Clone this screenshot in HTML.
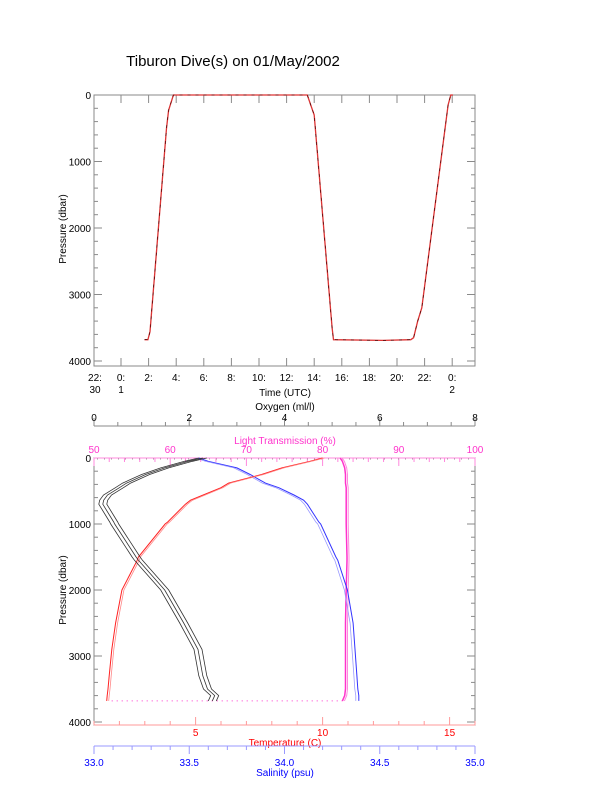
<!DOCTYPE html>
<html><head><meta charset="utf-8"><style>
body{margin:0;background:#fff}
svg{display:block;font-family:"Liberation Sans",sans-serif}
</style></head><body>
<svg id="c" width="612" height="785" viewBox="0 0 612 785" xmlns="http://www.w3.org/2000/svg">
<text x="233" y="66" font-size="15" text-anchor="middle">Tiburon Dive(s) on 01/May/2002</text>
</svg>
<script>
// ---- top plot data: time (hours since 0:00 01/May) vs pressure ----
const diveTimes = [1.7, 1.95, 2.1, 3.3, 3.45, 3.8, 13.5, 14.0, 15.3, 15.4, 19.0, 21.0, 21.2, 21.5, 21.8, 23.7, 23.9, 24.05];
const divePress = [3680, 3680, 3560, 500, 230, 0, 0, 300, 3500, 3680, 3690, 3680, 3650, 3400, 3200, 150, 0, 0];
const timeTickHours = [-1.5, 0, 2, 4, 6, 8, 10, 12, 14, 16, 18, 20, 22, 24];
const timeTickLabels = [["22:","30"],["0:","1"],["2:",""],["4:",""],["6:",""],["8:",""],["10:",""],["12:",""],["14:",""],["16:",""],["18:",""],["20:",""],["22:",""],["0:","2"]];
const pressTicks = [0, 1000, 2000, 3000, 4000];
// ---- bottom plot data: profiles ----
const profPress = [0, 50, 150, 250, 380, 450, 560, 640, 700, 970, 1000, 1500, 1550, 2000, 2500, 2900, 3300, 3500, 3600, 3680];
const tempValues = [10.0, 9.5, 8.4, 7.6, 6.3, 6.0, 5.3, 4.8, 4.6, 3.9, 3.8, 2.75, 2.7, 2.1, 1.85, 1.7, 1.6, 1.55, 1.52, 1.5];
const oxyValues = [2.2, 1.9, 1.4, 1.0, 0.6, 0.45, 0.2, 0.12, 0.1, 0.33, 0.35, 0.8, 0.85, 1.4, 1.8, 2.1, 2.2, 2.3, 2.45, 2.4];
const salValues = [33.55, 33.6, 33.75, 33.82, 33.9, 33.97, 34.05, 34.1, 34.12, 34.18, 34.19, 34.27, 34.28, 34.33, 34.36, 34.37, 34.38, 34.385, 34.39, 34.39];
const lightValues = [82.3, 82.6, 82.9, 83.0, 83.0, 83.1, 83.1, 83.1, 83.1, 83.1, 83.1, 83.2, 83.2, 83.1, 83.0, 83.0, 83.0, 83.0, 82.9, 82.6];
const oxyTicks = [0, 2, 4, 6, 8];
const lightTicks = [50, 60, 70, 80, 90, 100];
const tempTicks = [5, 10, 15];
const salTicks = [33.0, 33.5, 34.0, 34.5, 35.0];
const salTickLabels = ["33.0", "33.5", "34.0", "34.5", "35.0"];

const svg = document.getElementById('c');
const NS = 'http://www.w3.org/2000/svg';
function mk(tag, attrs, parent) {
  const e = document.createElementNS(NS, tag);
  for (const k in attrs) e.setAttribute(k, attrs[k]);
  (parent || svg).appendChild(e);
  return e;
}
const L = 94, R = 475;
const xTime = t => 121 + (t) * 13.8;
const yTop = p => 95 + p * 0.0665;
const yBot = p => 458 + p * 0.066;
const xOxy = v => L + v / 8 * (R - L);
const xLight = v => L + (v - 50) / 50 * (R - L);
const xTemp = v => L + (v - 1) / 15 * (R - L);
const xSal = v => L + (v - 33) / 2 * (R - L);

function txt(x, y, s, size, color, anchor, name) {
  const t = mk('text', {x: x, y: y, 'font-size': size, fill: color, 'text-anchor': anchor || 'middle'});
  t.textContent = s;
  
  
  return t;
}
function line(x1, y1, x2, y2, c, name) {
  const l = mk('line', {x1: x1, y1: y1, x2: x2, y2: y2, stroke: c, 'stroke-width': 1});
  
  
  return l;
}
const G = '#8a8a8a';

// ===== TOP PLOT =====
const f1 = mk('rect', {x: L, y: 95, width: R - L, height: 271, fill: 'none', stroke: G});


pressTicks.forEach(p => {
  line(L, yTop(p), L + 8, yTop(p), G, 'top-y-tick');
  line(R, yTop(p), R - 8, yTop(p), G, 'top-y-tick-right');
  txt(L - 3, yTop(p) + 4, String(p), 10, '#000', 'end', 'top-y-tick-label');
});
for (let p = 200; p < 4000; p += 200) {
  if (p % 1000) { line(L, yTop(p), L + 4, yTop(p), G, 'top-y-minor-tick'); line(R, yTop(p), R - 4, yTop(p), G, 'top-y-minor-tick-right'); }
}
timeTickHours.forEach((h, i) => {
  const x = h < 0 ? L + 1 : xTime(h);
  if (h >= 0) { line(x, 366, x, 358, G, 'time-tick'); line(x, 95, x, 103, G, 'time-tick-top'); }
  txt(x, 381, timeTickLabels[i][0], 10, '#000', 'middle', 'time-tick-label');
  if (timeTickLabels[i][1]) txt(x, 393, timeTickLabels[i][1], 10, '#000', 'middle', 'time-tick-sublabel');
});
txt(285, 396, 'Time (UTC)', 10, '#000', 'middle', 'x-axis-title-time');
const ty = txt(0, 0, 'Pressure (dbar)', 10, '#000', 'middle', 'y-axis-title-top');
ty.setAttribute('transform', 'translate(66,229) rotate(-90)');
let d1 = diveTimes.map((t, i) => (i ? 'L' : 'M') + xTime(t).toFixed(1) + ' ' + yTop(divePress[i]).toFixed(1)).join(' ');
const dive = mk('path', {d: d1, fill: 'none', stroke: '#d33', 'stroke-width': 1.3});


const dive2 = mk('path', {d: d1, fill: 'none', stroke: '#300', 'stroke-width': 0.6, 'stroke-dasharray': '3 5'});



// ===== BOTTOM PLOT =====
const f2 = mk('rect', {x: L, y: 458, width: R - L, height: 267, fill: 'none', stroke: G});


pressTicks.forEach(p => {
  line(L, yBot(p), L + 8, yBot(p), G, 'bottom-y-tick');
  line(R, yBot(p), R - 8, yBot(p), G, 'bottom-y-tick-right');
  txt(L - 3, yBot(p) + 4, String(p), 10, '#000', 'end', 'bottom-y-tick-label');
});
for (let p = 200; p < 4000; p += 200) {
  if (p % 1000) { line(L, yBot(p), L + 4, yBot(p), G, 'bottom-y-minor-tick'); line(R, yBot(p), R - 4, yBot(p), G, 'bottom-y-minor-tick-right'); }
}
const ty2 = txt(0, 0, 'Pressure (dbar)', 10, '#000', 'middle', 'y-axis-title-bottom');
ty2.setAttribute('transform', 'translate(66,590) rotate(-90)');

line(L, 426, R, 426, G, 'oxygen-axis-line');
for (let v = 0; v <= 8; v += 0.5) {
  const major = v % 2 === 0;
  line(xOxy(v), 426, xOxy(v), major ? 418 : 422, G, 'oxygen-tick');
}
oxyTicks.forEach(v => txt(xOxy(v), 421, String(v), 10, '#000', 'middle', 'oxygen-tick-label'));
txt(285, 410, 'Oxygen (ml/l)', 10, '#000', 'middle', 'oxygen-axis-title');

const M = '#ff33cc';
line(L, 458, R, 458, '#ff88dd', 'light-axis-line');
for (let v = 50; v <= 100; v += 2) {
  const major = v % 10 === 0;
  line(xLight(v), 458, xLight(v), major ? 466 : 462, '#ff88dd', 'light-tick');
}
lightTicks.forEach(v => txt(xLight(v), 453, String(v), 10, M, 'middle', 'light-tick-label'));
txt(285, 444, 'Light Transmission (%)', 10, M, 'middle', 'light-axis-title');

line(L, 725, R, 725, '#ff9999', 'temperature-axis-line');
for (let v = 1; v <= 16; v += 1) {
  const major = v % 5 === 0;
  line(xTemp(v), 725, xTemp(v), major ? 717 : 721, '#ff9999', 'temperature-tick');
}
tempTicks.forEach(v => txt(xTemp(v), 736, String(v), 10, '#f00', 'middle', 'temperature-tick-label'));
txt(285, 746, 'Temperature (C)', 10, '#f00', 'middle', 'temperature-axis-title');

line(L, 746, R, 746, '#9999ff', 'salinity-axis-line');
for (let v = 33; v <= 35.001; v += 0.1) {
  const major = Math.abs(v * 2 - Math.round(v * 2)) < 0.01;
  line(xSal(v), 746, xSal(v), major ? 754 : 750, '#9999ff', 'salinity-tick');
}
salTicks.forEach((v, i) => txt(xSal(v), 766, salTickLabels[i], 10, '#00f', 'middle', 'salinity-tick-label'));
txt(285, 776, 'Salinity (psu)', 10, '#00f', 'middle', 'salinity-axis-title');

function prof(vals, xf, color, name, dx, w) {
  const d = vals.map((v, i) => (i ? 'L' : 'M') + (xf(v) + (dx || 0)).toFixed(1) + ' ' + yBot(profPress[i]).toFixed(1)).join(' ');
  const p = mk('path', {d: d, fill: 'none', stroke: color, 'stroke-width': w || 1});
  
  
}
const s1 = mk('line', {x1: L + 3, y1: yBot(0) + 1, x2: R - 3, y2: yBot(0) + 1, stroke: '#999', 'stroke-dasharray': '1 6'});


const s2 = mk('line', {x1: xTemp(1.5) + 5, y1: yBot(3680), x2: xLight(82.6), y2: yBot(3680), stroke: M, 'stroke-dasharray': '1 4'});



prof(lightValues, xLight, M, 'light-transmission-profile', 0, 1.5);
prof(lightValues, xLight, '#ff88dd', 'light-transmission-profile-2', 2, 1);
prof(salValues, xSal, '#33f', 'salinity-profile', 0, 1);
prof(salValues, xSal, '#99f', 'salinity-profile-2', -3, 0.8);
prof(tempValues, xTemp, '#f22', 'temperature-profile', 0, 1);
prof(tempValues, xTemp, '#f88', 'temperature-profile-2', 2, 0.8);
prof(oxyValues, xOxy, '#333', 'oxygen-profile-1', 0, 0.8);
prof(oxyValues, xOxy, '#333', 'oxygen-profile-2', 4, 0.8);
prof(oxyValues, xOxy, '#333', 'oxygen-profile-3', 8, 0.8);
</script>
</body></html>
